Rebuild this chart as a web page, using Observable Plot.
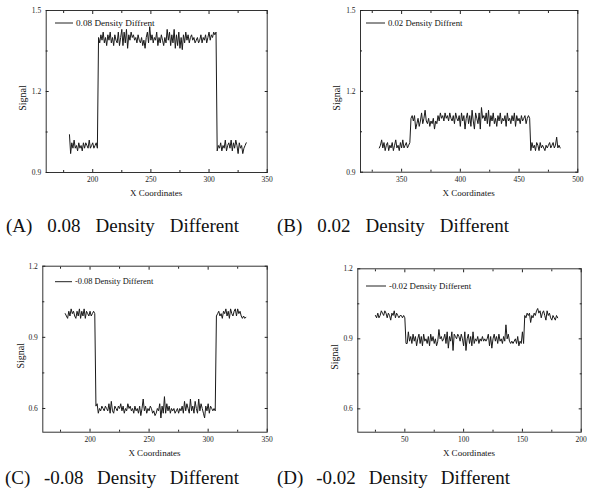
<!DOCTYPE html>
<html><head><meta charset="utf-8">
<script src="https://cdn.jsdelivr.net/npm/d3@7"></script>
<script src="https://cdn.jsdelivr.net/npm/@observablehq/plot@0.6"></script>
<style>
html,body{margin:0;padding:0;background:#fff;}
#root{position:relative;width:612px;height:497px;overflow:hidden;font-family:"Liberation Serif","Times New Roman",serif;}
.panel{position:absolute;}
.cap{position:absolute;font-family:"Liberation Serif","Times New Roman",serif;font-size:19px;line-height:19px;white-space:nowrap;color:#111;text-align:justify;text-align-last:justify;}
</style></head><body><div id="root"></div>
<script>
// ---------- data ----------
const xStartA = 180;
const signalA = [
1.04,0.97,1.01,0.99,1.02,0.99,1.00,0.98,1.01,0.99,1.00,0.98,1.01,0.99,1.01,1.00,0.99,1.02,0.99,1.00,1.01,0.99,1.00,1.01,0.99,
1.40,1.38,1.41,1.39,1.42,1.38,1.40,1.37,1.41,1.39,
1.42,1.38,1.40,1.37,1.41,1.39,1.38,1.42,1.37,1.40,
1.43,1.37,1.42,1.38,1.43,1.36,1.41,1.39,1.42,1.40,
1.41,1.39,1.40,1.38,1.41,1.39,1.38,1.40,1.37,1.39,
1.36,1.40,1.42,1.38,1.44,1.39,1.41,1.38,1.40,1.39,
1.42,1.37,1.40,1.38,1.41,1.39,1.37,1.40,1.38,1.43,
1.39,1.42,1.37,1.41,1.38,1.43,1.36,1.41,1.37,1.42,
1.36,1.40,1.355,1.41,1.38,1.42,1.39,1.41,1.38,1.40,
1.41,1.39,1.40,1.38,1.39,1.40,1.38,1.39,1.41,1.38,
1.40,1.39,1.41,1.38,1.40,1.42,1.39,1.41,1.40,1.42,
1.41,1.42,
0.98,1.00,0.99,1.01,0.98,1.00,0.99,1.02,0.98,1.00,1.01,0.99,1.02,0.98,1.01,0.99,1.02,1.00,0.97,1.01,0.99,1.00,0.97,0.99,1.00,1.01
];
const xStartB = 331;
const signalB = [
0.99,1.00,1.02,0.99,1.01,0.98,1.00,1.01,0.98,1.00,0.99,1.01,0.98,1.00,1.02,0.99,1.00,0.98,1.01,0.99,1.02,0.99,1.00,1.01,0.99,1.00,1.01,
1.10,1.11,1.09,1.11,1.06,1.08,1.10,1.07,1.09,1.12,
1.08,1.10,1.13,1.09,1.08,1.10,1.07,1.09,1.08,1.10,
1.06,1.09,1.08,1.11,1.09,1.12,1.10,1.11,1.09,1.12,
1.10,1.11,1.09,1.12,1.10,1.09,1.11,1.08,1.12,1.10,
1.09,1.11,1.07,1.12,1.09,1.11,1.06,1.10,1.12,1.08,
1.11,1.07,1.13,1.09,1.06,1.12,1.10,1.08,1.12,1.06,
1.14,1.10,1.11,1.09,1.12,1.08,1.13,1.07,1.11,1.09,
1.12,1.08,1.10,1.07,1.11,1.09,1.12,1.08,1.10,1.09,
1.11,1.07,1.12,1.09,1.10,1.08,1.11,1.09,1.12,1.07,
1.11,1.09,1.10,1.08,1.11,1.09,1.10,1.11,1.08,1.10,
1.11,1.10,
0.98,1.01,0.99,1.00,0.98,1.01,1.00,0.98,1.01,0.99,1.00,0.99,0.98,1.00,0.99,1.00,1.01,0.99,1.00,1.01,0.99,1.00,1.03,0.99,1.00,0.99
];
const xStartC = 179;
const signalC = [
1.00,0.99,0.98,1.01,0.99,1.02,1.00,1.01,0.99,0.98,1.01,0.99,1.02,0.98,1.01,0.99,1.02,0.98,1.01,1.00,0.99,1.01,0.99,1.00,1.01,1.00,
0.61,0.62,0.58,0.60,0.59,0.61,0.60,0.59,0.61,0.60,
0.59,0.62,0.58,0.63,0.59,0.58,0.61,0.60,0.59,0.61,
0.60,0.62,0.59,0.61,0.58,0.60,0.59,0.62,0.60,0.61,
0.59,0.60,0.58,0.61,0.59,0.60,0.58,0.61,0.57,0.60,
0.64,0.59,0.61,0.58,0.60,0.59,0.61,0.60,0.58,0.59,
0.57,0.58,0.60,0.59,0.62,0.56,0.61,0.58,0.65,0.58,
0.62,0.59,0.61,0.58,0.60,0.59,0.60,0.58,0.59,0.60,
0.58,0.60,0.59,0.61,0.58,0.63,0.59,0.62,0.60,0.58,
0.64,0.59,0.61,0.58,0.63,0.60,0.58,0.64,0.59,0.62,
0.60,0.58,0.56,0.61,0.59,0.62,0.58,0.61,0.60,0.59,
0.60,0.59,
0.99,1.00,1.01,0.99,1.00,0.98,1.01,1.00,1.02,0.99,1.01,0.98,1.02,1.00,0.99,1.01,1.02,0.99,1.02,1.00,1.01,0.99,0.98,0.99,0.98,0.985
];
const xStartD = 25;
const signalD = [
1.00,0.99,1.01,0.99,1.00,1.02,1.01,1.00,1.02,1.01,0.99,1.01,1.00,0.98,1.01,1.00,1.02,0.99,1.01,1.00,0.99,1.00,1.00,0.99,1.00,0.99,
0.88,0.88,0.93,0.89,0.91,0.88,0.92,0.89,0.91,0.87,
0.90,0.92,0.88,0.91,0.87,0.92,0.89,0.90,0.88,0.91,
0.87,0.92,0.89,0.91,0.88,0.90,0.87,0.89,0.94,0.90,
0.91,0.89,0.90,0.92,0.88,0.93,0.86,0.91,0.89,0.93,
0.85,0.92,0.91,0.90,0.92,0.91,0.89,0.92,0.90,0.87,
0.93,0.85,0.90,0.92,0.88,0.91,0.87,0.93,0.88,0.90,
0.89,0.91,0.88,0.90,0.89,0.91,0.89,0.90,0.89,0.90,
0.92,0.87,0.91,0.86,0.90,0.92,0.89,0.91,0.88,0.92,
0.89,0.90,0.88,0.91,0.89,0.96,0.90,0.92,0.89,0.88,
0.89,0.88,0.89,0.90,0.88,0.91,0.87,0.89,0.88,0.93,
0.88,
1.00,0.99,1.01,1.00,1.01,0.97,1.00,0.99,1.01,1.00,1.02,1.03,1.01,1.02,0.99,1.01,1.02,1.00,0.98,1.02,1.00,1.01,0.99,0.98,1.00,0.99,0.98,1.00,0.99
];

const xTicksA = [200, 250, 300, 350], xMinorA = [175, 225, 275, 325];
const xTicksB = [350, 400, 450, 500], xMinorB = [325, 375, 425, 475];
const xTicksC = [200, 250, 300, 350], xMinorC = [175, 225, 275, 325];
const xTicksD = [50, 100, 150, 200], xMinorD = [25, 75, 125, 175];
const yTicksTop = [0.9, 1.2, 1.5], yMinorTop = [1.05, 1.35];
const yTicksBot = [0.6, 0.9, 1.2], yMinorBot = [0.75, 1.05];

const legendLabels = ["0.08 Density Diffrent", "0.02 Density Diffrent", "-0.08 Density Different", "-0.02 Density Different"];
const captions = ["(A) 0.08 Density Different", "(B) 0.02 Density Different", "(C) -0.08 Density Different", "(D) -0.02 Density Different"];
const xLabel = "X Coordinates";
const yLabel = "Signal";

// ---------- drawing ----------
function series(x0, vals) { return vals.map((v, i) => ({x: x0 + i, y: v})); }

function legendMark(label, lx, ly, len, fs) {
  return (index, scales, values, dims) => {
    const g = d3.create("svg:g");
    const x0 = dims.marginLeft + lx, y0 = dims.marginTop + ly;
    g.append("line").attr("x1", x0).attr("x2", x0 + len).attr("y1", y0).attr("y2", y0)
      .attr("stroke", "#222").attr("stroke-width", 1);
    g.append("text").attr("x", x0 + len + 3).attr("y", y0).attr("dy", "0.32em")
      .attr("text-anchor", "start").attr("font-size", fs).attr("fill", "#111").text(label);
    return g.node();
  };
}

function axisLabels(xl, yl, xOff, yOff, yShift) {
  return (index, scales, values, dims) => {
    const g = d3.create("svg:g").attr("fill", "#111").attr("text-anchor", "middle");
    const fw = dims.width - dims.marginLeft - dims.marginRight;
    const fh = dims.height - dims.marginTop - dims.marginBottom;
    g.append("text")
      .attr("x", dims.marginLeft + fw / 2)
      .attr("y", dims.height - dims.marginBottom + xOff)
      .attr("font-size", 9).text(xl);
    g.append("text")
      .attr("transform", `translate(${dims.marginLeft - yOff},${dims.marginTop + fh / 2 + yShift}) rotate(-90)`)
      .attr("font-size", 10).text(yl);
    return g.node();
  };
}

function panel(cfg) {
  const data = series(cfg.x0, cfg.vals);
  const ax = (t, o) => Plot.axisX(t, Object.assign({label: null}, o));
  const ay = (t, o) => Plot.axisY(t, Object.assign({label: null}, o));
  const p = Plot.plot({
    width: cfg.w, height: cfg.h,
    marginLeft: cfg.ml, marginRight: cfg.mr, marginTop: cfg.mt, marginBottom: cfg.mb,
    style: {fontFamily: "'Liberation Serif', serif", fontSize: "7.5px", color: "#222", background: "transparent"},
    x: {domain: cfg.xd},
    y: {domain: cfg.yd},
    marks: [
      Plot.frame({stroke: "#333", strokeWidth: 1}),
      ax(cfg.xt, {anchor: "bottom", tickSize: 0, tickPadding: 4}),
      ax(cfg.xt, {anchor: "bottom", tickSize: -3, fill: "none"}),
      ax(cfg.xt, {anchor: "top", tickSize: -3, fill: "none"}),
      ax(cfg.xm, {anchor: "bottom", tickSize: -2, fill: "none"}),
      ax(cfg.xm, {anchor: "top", tickSize: -2, fill: "none"}),
      ay(cfg.yt, {anchor: "left", tickSize: 0, tickPadding: 5}),
      ay(cfg.yt, {anchor: "left", tickSize: -3, fill: "none"}),
      ay(cfg.yt, {anchor: "right", tickSize: -3, fill: "none"}),
      ay(cfg.ym, {anchor: "left", tickSize: -2, fill: "none"}),
      ay(cfg.ym, {anchor: "right", tickSize: -2, fill: "none"}),
      Plot.line(data, {x: "x", y: "y", stroke: "#1a1a1a", strokeWidth: 1}),
      axisLabels(xLabel, yLabel, 24, cfg.ylo, 7),
      legendMark(cfg.leg, cfg.lx, cfg.ly, cfg.llen, cfg.lfs)
    ]
  });
  p.classList.add("panel");
  p.style.left = cfg.left + "px";
  p.style.top = cfg.top + "px";
  return p;
}

const root = document.getElementById("root");
const cfgs = [
  {left: 0, top: 0, w: 306, h: 200, ml: 45.7, mr: 39.3, mt: 10, mb: 28, xd: [160, 350], yd: [0.9, 1.5],
   xt: xTicksA, xm: xMinorA, yt: yTicksTop, ym: yMinorTop, x0: xStartA, vals: signalA, ylo: 19.7,
   leg: legendLabels[0], lx: 9.3, ly: 13, llen: 18, lfs: 9.2},
  {left: 306, top: 0, w: 306, h: 200, ml: 54, mr: 34.7, mt: 10, mb: 28.3, xd: [315, 500], yd: [0.9, 1.5],
   xt: xTicksB, xm: xMinorB, yt: yTicksTop, ym: yMinorTop, x0: xStartB, vals: signalB, ylo: 20,
   leg: legendLabels[1], lx: 6, ly: 13, llen: 19, lfs: 8.7},
  {left: 0, top: 250, w: 306, h: 215, ml: 42.3, mr: 39.3, mt: 15.7, mb: 33.3, xd: [160, 350], yd: [0.5, 1.2],
   xt: xTicksC, xm: xMinorC, yt: yTicksBot, ym: yMinorBot, x0: xStartC, vals: signalC, ylo: 18.3,
   leg: legendLabels[2], lx: 12.7, ly: 16, llen: 17, lfs: 8.4},
  {left: 306, top: 250, w: 306, h: 215, ml: 51.3, mr: 31.3, mt: 18.3, mb: 33.3, xd: [10, 200], yd: [0.5, 1.2],
   xt: xTicksD, xm: xMinorD, yt: yTicksBot, ym: yMinorBot, x0: xStartD, vals: signalD, ylo: 19,
   leg: legendLabels[3], lx: 8.7, ly: 17.7, llen: 20, lfs: 8.8}
];
cfgs.forEach(c => root.appendChild(panel(c)));

const capPos = [[6, 215.8, 233], [277, 215.8, 232], [5, 468.4, 234], [277, 468.4, 233]];
captions.forEach((t, i) => {
  const d = document.createElement("div");
  d.className = "cap";
  d.style.left = capPos[i][0] + "px";
  d.style.top = capPos[i][1] + "px";
  d.style.width = capPos[i][2] + "px";
  d.textContent = t;
  root.appendChild(d);
});
</script>
</body></html>
